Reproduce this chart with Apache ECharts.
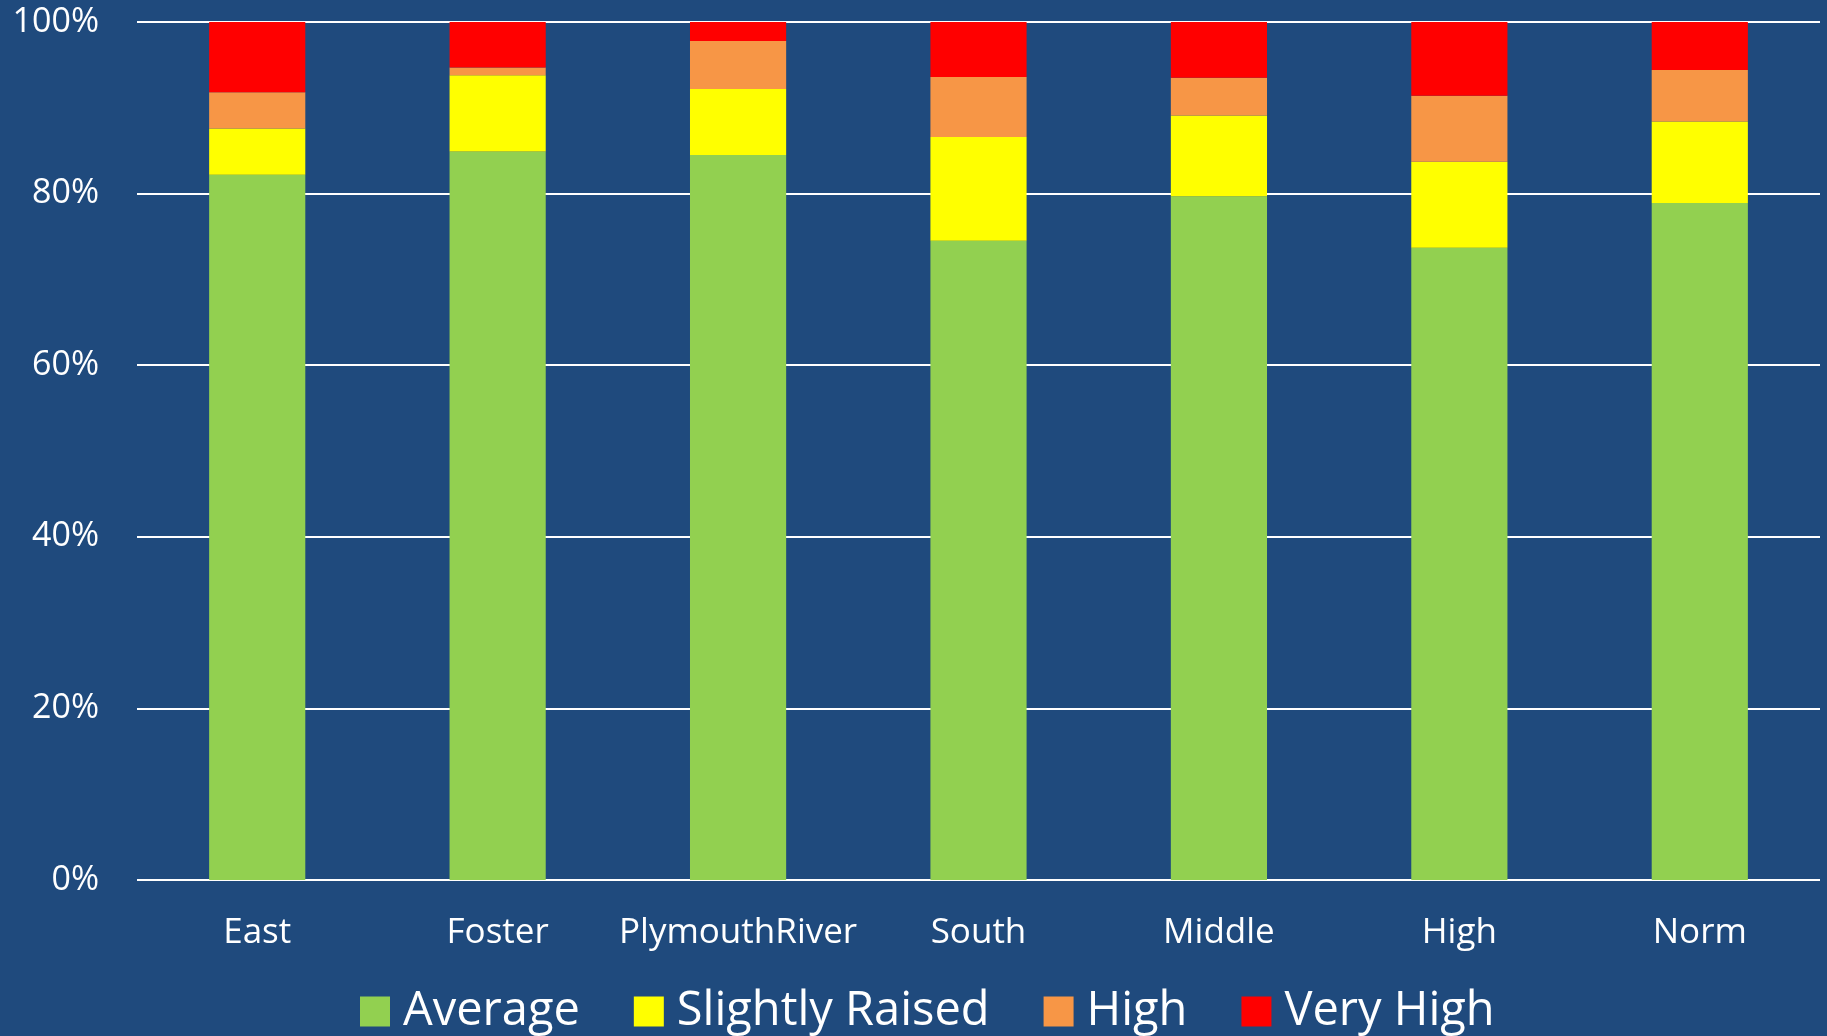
<!DOCTYPE html>
<html>
<head>
<meta charset="utf-8">
<script src="https://cdn.jsdelivr.net/npm/echarts@6/dist/echarts.min.js"></script>
<style>
  html, body { margin: 0; padding: 0; background: #1F4A7D; }
  #chart { width: 1827px; height: 1036px; }
</style>
</head>
<body>
<div id="chart"></div>
<script>
// categories and stacked shares (%)
const schools = ['East', 'Foster', 'PlymouthRiver', 'South', 'Middle', 'High', 'Norm'];
const average = [82.2, 84.9, 84.5, 74.5, 79.7, 73.7, 78.9];
const slightlyRaised = [5.4, 8.9, 7.7, 12.1, 9.4, 10.0, 9.5];
const high = [4.2, 0.9, 5.6, 7.0, 4.4, 7.7, 6.0];
const veryHigh = [8.2, 5.3, 2.2, 6.4, 6.5, 8.6, 5.6];

const font = '"Open Sans", sans-serif';

const chart = echarts.init(document.getElementById('chart'));

function stack(name, data, color) {
  return {
    name: name,
    type: 'bar',
    stack: 'total',
    barWidth: '40%',
    data: data,
    itemStyle: { color: color },
    emphasis: { disabled: true }
  };
}

chart.setOption({
  backgroundColor: '#1F4A7D',
  animation: false,
  textStyle: { fontFamily: font },
  grid: { left: 137, right: 7, top: 22, bottom: 156 },
  legend: {
    top: 983,
    left: 355,
    itemWidth: 30,
    itemHeight: 30,
    itemGap: 54,
    icon: 'rect',
    textStyle: { color: '#fff', fontSize: 47, fontFamily: font, padding: [0, 0, 0, 8] },
    data: ['Average', 'Slightly Raised', 'High', 'Very High']
  },
  xAxis: {
    type: 'category',
    data: schools,
    axisLine: { show: false },
    axisTick: { show: false },
    axisLabel: { color: '#fff', fontSize: 35, fontFamily: font, margin: 36, interval: 0 }
  },
  yAxis: {
    type: 'value',
    min: 0,
    max: 100,
    interval: 20,
    axisLine: { show: false },
    axisTick: { show: false },
    axisLabel: { color: '#fff', fontSize: 34, fontFamily: font, margin: 38, formatter: '{value}%' },
    splitLine: { lineStyle: { color: '#ffffff', width: 2 } }
  },
  series: [
    stack('Average', average, '#92D050'),
    stack('Slightly Raised', slightlyRaised, '#FFFF00'),
    stack('High', high, '#F79646'),
    stack('Very High', veryHigh, '#FF0000')
  ]
});
</script>
</body>
</html>
